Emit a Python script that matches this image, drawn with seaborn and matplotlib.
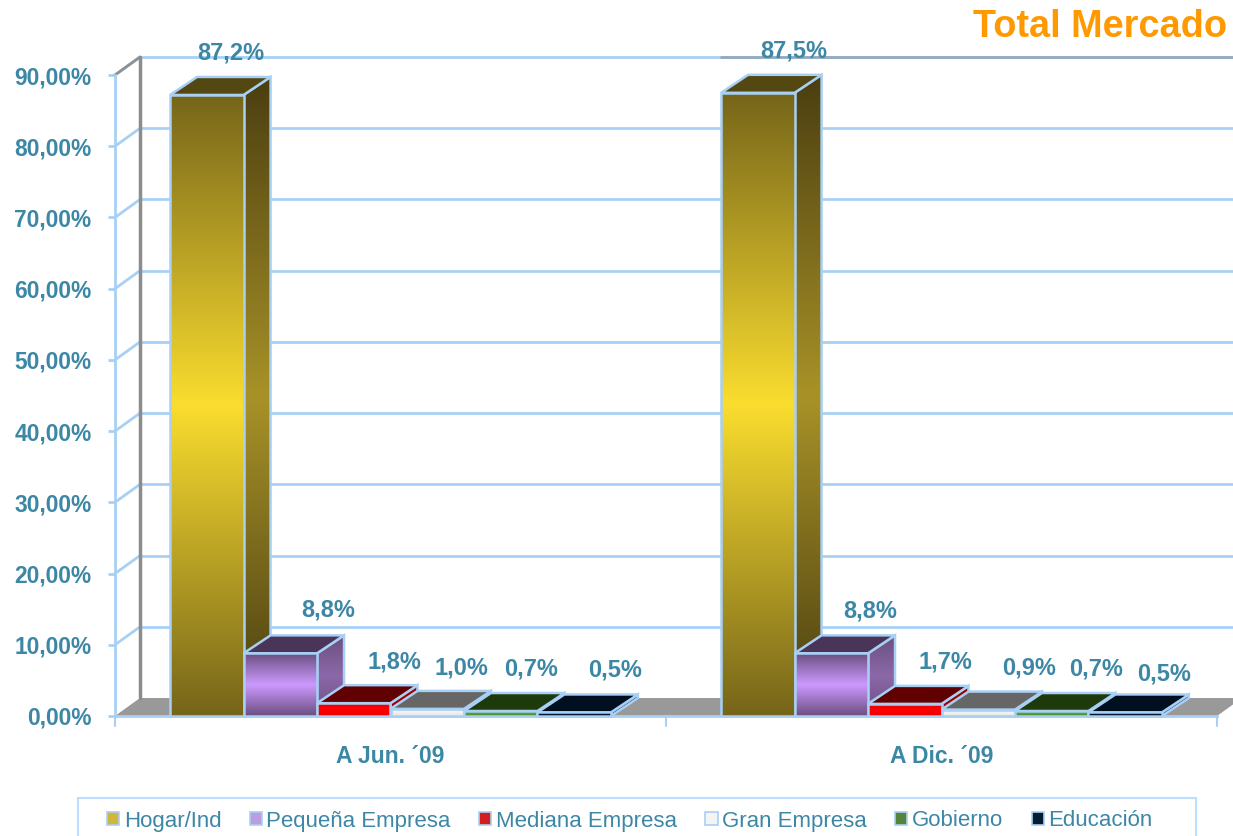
import numpy as np
import pandas as pd
import matplotlib.pyplot as plt
import seaborn as sns
from matplotlib.colors import LinearSegmentedColormap
from matplotlib.patches import Polygon, Rectangle

periods = ["A Jun. ´09", "A Dic. ´09"]
segments = ["Hogar/Ind", "Pequeña Empresa", "Mediana Empresa", "Gran Empresa", "Gobierno", "Educación"]
jun_values = [87.2, 8.8, 1.8, 1.0, 0.7, 0.5]
dic_values = [87.5, 8.8, 1.7, 0.9, 0.7, 0.5]
yticks = [0, 10, 20, 30, 40, 50, 60, 70, 80, 90]
ytick_labels = ["0,00%", "10,00%", "20,00%", "30,00%", "40,00%", "50,00%", "60,00%", "70,00%", "80,00%", "90,00%"]

# colours: legend, front (edge/centre), side (top/mid/bottom), top face
legend_colors = ["#E8C820", "#BE90EE", "#F00000", "#F4F4F4", "#4F9030", "#001A3A"]
front_colors = [["#76651A", "#FADD2F", "#76651A"], ["#6A4F80", "#CC99FF", "#6A4F80"], ["#E80000", "#FF0000", "#E80000"],
                ["#E4E4E4", "#F4F4F4", "#E4E4E4"], ["#4A8A2C", "#58A034", "#4A8A2C"], ["#001024", "#001A3A", "#001024"]]
side_colors = [["#4A3E10", "#A89228", "#4A3E10"], ["#6A4F80", "#8C68A8", "#6A4F80"], ["#A00000", "#A00000", "#A00000"],
               ["#8A8A8A", "#8A8A8A", "#8A8A8A"], ["#2A4E16", "#2A4E16", "#2A4E16"], ["#001024", "#001024", "#001024"]]
top_colors = ["#544812", "#4A3558", "#600000", "#666666", "#1F3A0A", "#001020"]

# label offsets from the bar centre, pixels
jun_offsets = [(24, 24), (48, 25), (41, 23), (34, 23), (30, 24), (41, 24)]
dic_offsets = [(36, 24), (39, 24), (41, 24), (51, 24), (44, 24), (39, 20)]

LINE = "#A8D0F4"
TEXT = "#3C87A5"

sns.set_theme(style="white")
plt.rcParams["font.family"] = ["Liberation Sans", "DejaVu Sans"]

df = pd.DataFrame({
    "periodo": np.repeat(periods, len(segments)),
    "segmento": segments * 2,
    "valor": jun_values + dic_values,
})

fig = plt.figure(figsize=(12.33, 8.36), dpi=100)
ax = fig.add_axes([115 / 1233, 1 - 716 / 836, 1102 / 1233, 641 / 836])

sns.barplot(data=df, x="periodo", y="valor", hue="segmento", hue_order=segments, order=periods,
            palette=legend_colors, width=0.8, gap=0, dodge=True, edgecolor=LINE, linewidth=1.8, ax=ax)

ax.set_xlim(-0.5, 1.5)
ax.set_ylim(0, 90)

# depth of the fake 3d, in data units
px_x = 2 / 1102
px_y = 90 / 641
bar_dx, bar_dy = 27 * px_x, 18 * px_y
wall_dx, wall_dy = 25 * px_x, 18 * px_y

# floor and walls
ax.add_patch(Polygon([(-0.5, 0), (-0.5 + wall_dx, wall_dy), (1.5 + wall_dx, wall_dy), (1.5, 0)],
                     facecolor="#999999", edgecolor="none", zorder=0.4, clip_on=False))
for y in yticks[1:]:
    ax.plot([-0.5, -0.5 + wall_dx], [y, y + wall_dy], color=LINE, lw=2, zorder=0.5, clip_on=False)
    ax.plot([-0.5 + wall_dx, 1.5 + wall_dx], [y + wall_dy] * 2, color=LINE, lw=2, zorder=0.5, clip_on=False)
ax.plot([0.6, 1.5 + wall_dx], [90 + wall_dy] * 2, color="#95AAC0", lw=2, zorder=0.55, clip_on=False)
ax.plot([-0.5, -0.5 + wall_dx], [90, 90 + wall_dy], color="#909090", lw=2, zorder=0.55, clip_on=False)
ax.plot([-0.5 + wall_dx] * 2, [wall_dy, 90 + wall_dy], color="#8C8C8C", lw=2.5, zorder=0.55, clip_on=False)


def gradient_fill(colors, extent, clip, z):
    cmap = LinearSegmentedColormap.from_list("g", colors)
    im = ax.imshow(np.linspace(0, 1, 256).reshape(-1, 1), extent=extent, aspect="auto", cmap=cmap,
                   origin="lower", zorder=z, interpolation="bilinear")
    im.set_clip_path(clip)


# seaborn drew the bars hue by hue, rebuild them as boxes left to right
bars = [p for p in ax.patches if isinstance(p, Rectangle) and p.get_height() > 0]
bars = sorted(bars, key=lambda p: p.get_x())
all_offsets = jun_offsets + dic_offsets
all_values = jun_values + dic_values
for i, bar in enumerate(bars):
    s = i % len(segments)
    x0, w, h = bar.get_x(), bar.get_width(), bar.get_height()
    x1 = x0 + w
    z = 2 + i * 0.1

    side = Polygon([(x1, 0), (x1 + bar_dx, bar_dy), (x1 + bar_dx, h + bar_dy), (x1, h)],
                   facecolor="none", edgecolor=LINE, lw=1.8, zorder=z + 0.02, clip_on=False)
    ax.add_patch(side)
    gradient_fill(side_colors[s], (x1, x1 + bar_dx, 0, h + bar_dy), side, z)

    top = Polygon([(x0, h), (x0 + bar_dx, h + bar_dy), (x1 + bar_dx, h + bar_dy), (x1, h)],
                  facecolor=top_colors[s], edgecolor=LINE, lw=1.8, zorder=z + 0.03, clip_on=False)
    ax.add_patch(top)

    bar.set_facecolor("none")
    bar.set_zorder(z + 0.05)
    bar.set_clip_on(False)
    gradient_fill(front_colors[s], (x0, x1, 0, h), bar, z + 0.04)

    ax.annotate(f"{all_values[i]:.1f}%".replace(".", ","), xy=(x0 + w / 2, h + bar_dy),
                xytext=all_offsets[i], textcoords="offset pixels", ha="center", va="center",
                fontsize=17, fontweight="bold", color=TEXT, zorder=6)

ax.set_xlim(-0.5, 1.5)
ax.set_ylim(0, 90)

# axes
sns.despine(ax=ax, top=True, right=True)
ax.spines["left"].set_color(LINE)
ax.spines["left"].set_linewidth(2)
ax.spines["bottom"].set_color(LINE)
ax.spines["bottom"].set_linewidth(2)
ax.spines["bottom"].set_zorder(1)

ax.set_yticks(yticks)
ax.set_yticklabels(ytick_labels, fontsize=16.4, fontweight="bold", color=TEXT)
ax.tick_params(axis="y", length=5, width=2, color=LINE, left=True, pad=12)
ax.set_xlabel("")
ax.set_ylabel("")
ax.tick_params(axis="x", bottom=False, pad=15, labelsize=16.5, labelcolor=TEXT)
for lab in ax.get_xticklabels():
    lab.set_fontweight("bold")
for xt in [-0.5, 0.5, 1.5]:
    ax.plot([xt, xt], [0, -10 * px_y], color=LINE, lw=1.5, clip_on=False, zorder=1)

# legend box runs off the bottom of the picture
fig.add_artist(Rectangle((78 / 1233, -0.02), 1118 / 1233, 0.02 + 38 / 836, transform=fig.transFigure,
                         facecolor="none", edgecolor="#BBDDFF", lw=1.5))
sns.move_legend(ax, loc="center left", bbox_to_anchor=(107 / 1233, 15 / 836), bbox_transform=fig.transFigure,
                ncol=6, frameon=False, title=None, fontsize=16, labelcolor=TEXT, borderpad=0, borderaxespad=0,
                handlelength=0.55, handleheight=0.55, handletextpad=0.2, columnspacing=1.28)
for handle in ax.get_legend().get_patches():
    handle.set_linewidth(1.2)

fig.text(1227 / 1233, 1 - 37 / 836, "Total Mercado", ha="right", va="baseline", fontsize=27.3,
         fontweight="bold", color="#FF9900")

fig.savefig("out.png", dpi=100)
